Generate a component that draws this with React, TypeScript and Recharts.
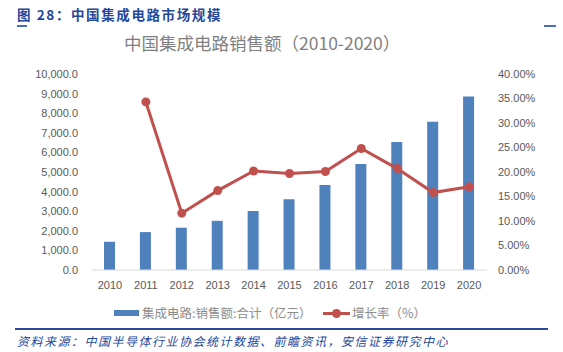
import React from "react";
import { ComposedChart, Bar, Line, XAxis, YAxis, Legend } from "recharts";

const years = ["2010", "2011", "2012", "2013", "2014", "2015", "2016", "2017", "2018", "2019", "2020"];
const sales = [1440, 1934, 2158, 2509, 3015, 3610, 4336, 5411, 6532, 7562, 8848];
const growth: (number | null)[] = [null, 34.3, 11.6, 16.2, 20.2, 19.7, 20.1, 24.8, 20.7, 15.8, 17.0];
const leftTicks = [0, 1000, 2000, 3000, 4000, 5000, 6000, 7000, 8000, 9000, 10000];
const rightTicks = [0, 5, 10, 15, 20, 25, 30, 35, 40];

const salesName = "集成电路:销售额:合计（亿元）";
const growthName = "增长率（%）";

const data = years.map((y, i) => ({ year: y, sales: sales[i], growth: growth[i] }));

const BLUE = "#4f81bd";
const RED = "#c0504d";
const AXIS_TEXT = "#595959";
const NAVY = "#24479a";

const tickFont = { fontFamily: "Liberation Sans, Arial, sans-serif", fontSize: 11, fill: AXIS_TEXT };

const fmtLeft = (v: number) =>
  v.toLocaleString("en-US", { minimumFractionDigits: 1, maximumFractionDigits: 1 });
const fmtRight = (v: number) => v.toFixed(2) + "%";

const LegendContent = () => (
  <div style={{ position: "relative", width: 563, height: 20, fontFamily: "'Noto Sans CJK SC', sans-serif", fontSize: 12.5, color: "#8c8c8c" }}>
    <div style={{ position: "absolute", left: 114, top: 7, width: 25, height: 6, background: BLUE }} />
    <div style={{ position: "absolute", left: 142, top: 0, lineHeight: "20px", whiteSpace: "nowrap" }}>{salesName}</div>
    <div style={{ position: "absolute", left: 323, top: 8.5, width: 27, height: 3, background: RED }} />
    <div style={{ position: "absolute", left: 331.5, top: 5.5, width: 9, height: 9, borderRadius: 5, background: RED }} />
    <div style={{ position: "absolute", left: 352, top: 0, lineHeight: "20px", whiteSpace: "nowrap" }}>{growthName}</div>
  </div>
);

export default function App() {
  return (
    <div style={{ position: "fixed", left: 0, top: 0, width: 563, height: 352, background: "#ffffff", overflow: "hidden" }}>
      <div style={{ position: "absolute", left: 17, top: 4, fontFamily: "'Noto Sans CJK SC', sans-serif", fontWeight: 700, fontSize: 13.5, letterSpacing: 1.6, color: NAVY, whiteSpace: "nowrap", lineHeight: "20px" }}>
        图 28：中国集成电路市场规模
      </div>
      <div style={{ position: "absolute", left: 17, top: 25, width: 10, height: 2, background: "#4a6cc0" }} />
      <div style={{ position: "absolute", left: 544, top: 25, width: 12, height: 2, background: "#4a6cc0" }} />
      <div style={{ position: "absolute", left: 124, top: 31, fontFamily: "'Noto Sans CJK SC', sans-serif", fontSize: 17.5, color: "#7f7f7f", whiteSpace: "nowrap", lineHeight: "24px" }}>
        中国集成电路销售额（2010-2020）
      </div>
      <div style={{ position: "absolute", left: 0, top: 0 }}>
        <ComposedChart width={563} height={352} data={data} margin={{ top: 74, right: 0, bottom: 29, left: 0 }}>
          <XAxis
            dataKey="year"
            axisLine={{ stroke: "#d9d9d9" }}
            tickLine={false}
            tickSize={0}
            tickMargin={11}
            height={33}
            tick={tickFont}
            interval={0}
          />
          <YAxis
            yAxisId="left"
            orientation="left"
            width={92}
            domain={[0, 10000]}
            ticks={leftTicks}
            tickFormatter={fmtLeft}
            axisLine={false}
            tickLine={false}
            tickSize={0}
            tickMargin={14}
            tick={tickFont}
            interval={0}
          />
          <YAxis
            yAxisId="right"
            orientation="right"
            width={76}
            domain={[0, 40]}
            ticks={rightTicks}
            tickFormatter={fmtRight}
            axisLine={false}
            tickLine={false}
            tickSize={0}
            tickMargin={11}
            tick={{ ...tickFont, textAnchor: "start" }}
            interval={0}
          />
          <Legend verticalAlign="bottom" height={20} content={LegendContent} wrapperStyle={{ left: 0, width: 563 }} />
          <Bar yAxisId="left" dataKey="sales" name={salesName} fill={BLUE} barSize={11} isAnimationActive={false} />
          <Line
            yAxisId="right"
            dataKey="growth"
            name={growthName}
            stroke={RED}
            strokeWidth={3}
            dot={{ r: 4.5, fill: RED, stroke: RED, strokeWidth: 0 }}
            activeDot={false}
            isAnimationActive={false}
          />
        </ComposedChart>
      </div>
      <div style={{ position: "absolute", left: 15, top: 328, width: 533, height: 1.5, background: "#2b4a9a" }} />
      <div style={{ position: "absolute", left: 17, top: 331, fontFamily: "'Noto Sans CJK SC', sans-serif", fontSize: 12, fontStyle: "italic", letterSpacing: 1.5, color: NAVY, whiteSpace: "nowrap", lineHeight: "20px" }}>
        资料来源：中国半导体行业协会统计数据、前瞻资讯，安信证券研究中心
      </div>
    </div>
  );
}
